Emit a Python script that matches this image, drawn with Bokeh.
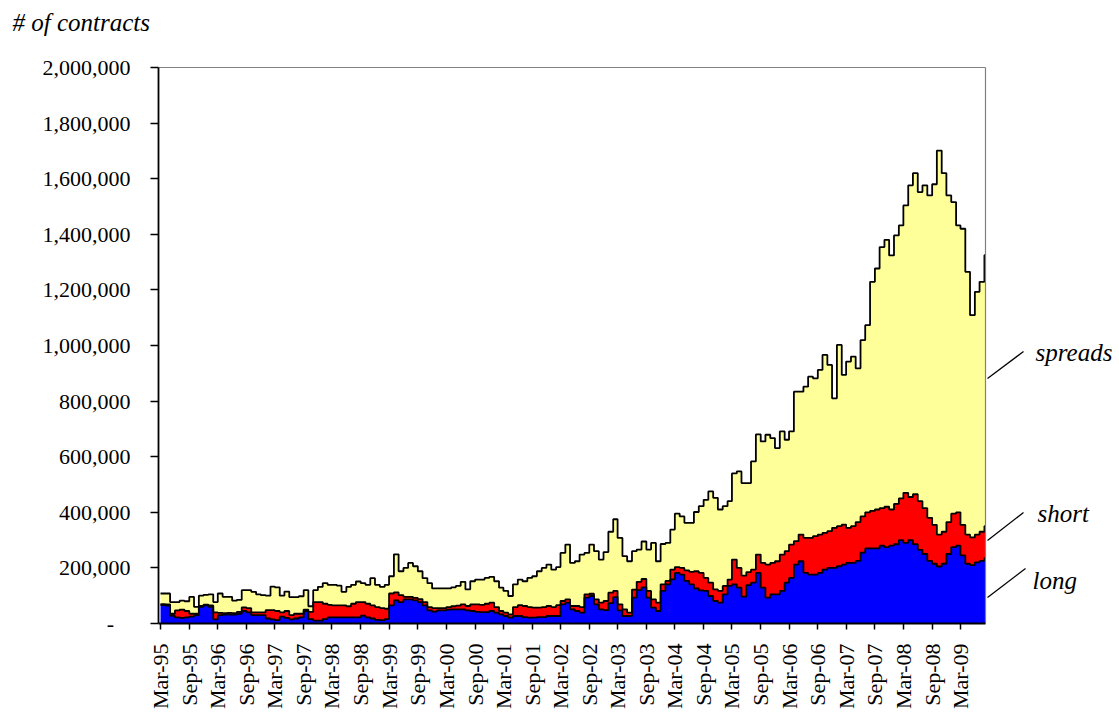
import numpy as np
import pandas as pd
from math import pi
from bokeh.plotting import figure
from bokeh.models import (FixedTicker, DatetimeTickFormatter, NumeralTickFormatter,
                          Label, Arrow, Range1d, ColumnDataSource)
from bokeh.embed import file_html
from bokeh.resources import INLINE

FONT = "Liberation Serif"

# ---------------- data (thousands of contracts, monthly from Mar-95) ----------------
first_month = "1995-03-01"

long_k = [
    66, 64, 28, 22, 20, 22, 25, 30, 60, 65, 60, 15,
    30, 32, 32, 32, 35, 45, 40, 30, 30, 30, 18, 15,
    12, 25, 20, 15, 18, 22, 45, 16, 10, 10, 16, 22,
    22, 22, 22, 22, 22, 22, 28, 22, 18, 13, 12, 16,
    65, 83, 77, 87, 87, 83, 77, 65, 47, 43, 47, 47,
    50, 51, 51, 51, 47, 45, 42, 41, 41, 45, 39, 33,
    27, 21, 27, 27, 23, 21, 21, 23, 23, 27, 27, 27,
    69, 75, 51, 45, 39, 93, 99, 69, 51, 48, 73, 95,
    47, 27, 27, 93, 120, 130, 93, 57, 45, 117, 141, 159,
    182, 176, 153, 141, 126, 119, 117, 99, 81, 75, 105, 135,
    141, 129, 97, 138, 147, 182, 129, 93, 105, 105, 117, 147,
    164, 212, 224, 182, 176, 176, 182, 194, 200, 200, 206, 212,
    218, 218, 225, 255, 270, 270, 270, 280, 275, 280, 285, 300,
    290, 300, 285, 265, 250, 225, 215, 205, 215, 250, 275, 280,
    245, 215, 210, 220, 225, 235,
]

short_k = [
    4, 5, 7, 25, 30, 23, 10, 5, 3, 3, 5, 25,
    8, 5, 6, 5, 7, 13, 15, 10, 10, 10, 30, 33,
    33, 15, 25, 15, 17, 13, 5, 26, 67, 67, 55, 45,
    43, 43, 43, 40, 49, 55, 49, 49, 47, 46, 43, 37,
    43, 29, 25, 9, 9, 9, 11, 12, 12, 12, 8, 8,
    9, 11, 13, 18, 16, 24, 27, 26, 30, 30, 20, 12,
    12, 12, 32, 39, 40, 38, 36, 34, 36, 36, 32, 39,
    12, 12, 12, 18, 20, 12, 8, 18, 24, 33, 38, 22,
    22, 24, 12, 29, 30, 30, 24, 30, 30, 24, 12, 35,
    21, 24, 38, 45, 62, 63, 47, 48, 42, 42, 30, 23,
    89, 71, 75, 47, 47, 66, 89, 119, 113, 119, 131, 113,
    120, 84, 96, 126, 132, 138, 138, 132, 132, 144, 144, 144,
    126, 132, 140, 130, 130, 135, 140, 135, 145, 130, 145, 150,
    180, 155, 180, 175, 165, 155, 140, 115, 115, 115, 120, 120,
    110, 105, 100, 100, 105, 115,
]

spreads_k = [
    38, 39, 42, 30, 32, 35, 61, 25, 37, 35, 40, 37,
    70, 59, 58, 45, 43, 62, 65, 74, 65, 62, 52, 85,
    85, 60, 70, 65, 60, 63, 70, 20, 43, 55, 74, 72,
    74, 71, 49, 70, 68, 74, 68, 68, 98, 80, 77, 86,
    62, 137, 86, 104, 122, 114, 100, 86, 86, 71, 71, 71,
    67, 68, 71, 81, 60, 83, 89, 91, 93, 93, 93, 84,
    78, 66, 82, 92, 89, 105, 113, 131, 141, 149, 135, 137,
    173, 197, 155, 161, 189, 149, 177, 173, 155, 176, 219, 258,
    239, 191, 185, 138, 116, 135, 149, 203, 149, 145, 137, 144,
    192, 185, 171, 176, 213, 240, 281, 328, 329, 293, 287, 282,
    310, 347, 333, 320, 389, 432, 437, 467, 449, 407, 443, 401,
    407, 538, 514, 544, 580, 568, 592, 640, 598, 466, 652, 538,
    598, 610, 553, 634, 673, 824, 867, 939, 960, 914, 966, 982,
    1034, 1121, 1155, 1112, 1161, 1160, 1225, 1381, 1290, 1175, 1121, 1032,
    1065, 945, 799, 873, 899, 975,
]

tick_dates = [f"{y}-{m:02d}-01" for y in range(1995, 2010) for m in (3, 9) if not (y == 2009 and m == 9)]
y_ticks = [0, 200000, 400000, 600000, 800000, 1000000, 1200000, 1400000, 1600000, 1800000, 2000000]

series_colors = {"long": "#0000FF", "short": "#FF0000", "spreads": "#FFFF99"}

# ---------------- geometry (page pixels) ----------------
W, H = 1118, 713
AX_LEFT, AX_RIGHT, AX_TOP, AX_BOT = 158, 985, 67, 623   # plot area in the reference
FRAME_TOP = 40                                          # frame extends above the plot area (title panel above)

x_start = pd.Timestamp("1995-02-16")
x_end = pd.Timestamp("2009-08-08")
Y_MAX = 2_000_000

x0_ms = x_start.value / 1e6
x1_ms = x_end.value / 1e6
ms_per_px = (x1_ms - x0_ms) / (AX_RIGHT - AX_LEFT)
val_per_px = Y_MAX / (AX_BOT - AX_TOP)


def px_x(px):
    return x0_ms + (px - AX_LEFT) * ms_per_px


def px_y(py):
    return (AX_BOT - py) * val_per_px


frame_x_end = px_x(W)
frame_y_top = px_y(FRAME_TOP)

# ---------------- build stacked series ----------------
n = len(long_k)
dates = [d.value / 1e6 for d in pd.date_range(first_month, periods=n, freq="MS")]
lng = np.array(long_k, dtype=float) * 1000
sht = np.array(short_k, dtype=float) * 1000
spr = np.array(spreads_k, dtype=float) * 1000

top_long = lng
top_short = lng + sht
top_total = lng + sht + spr

xs = dates + [x1_ms]


def ext(a):
    return list(a) + [a[-1]]


src = ColumnDataSource(dict(
    x=xs,
    zero=[0.0] * (n + 1),
    tl=ext(top_long),
    ts=ext(top_short),
    tt=ext(top_total),
))

p = figure(width=W, height=H, x_axis_type="datetime",
           x_range=Range1d(x0_ms, frame_x_end), y_range=Range1d(0, frame_y_top),
           output_backend="svg", toolbar_location=None,
           min_border_left=AX_LEFT, min_border_right=0, min_border_top=FRAME_TOP,
           min_border_bottom=H - AX_BOT)

p.background_fill_color = "white"
p.border_fill_color = "white"
p.outline_line_color = None
p.xgrid.visible = False
p.ygrid.visible = False

p.varea_step(x="x", y1="ts", y2="tt", step_mode="after", source=src, fill_color=series_colors["spreads"])
p.varea_step(x="x", y1="tl", y2="ts", step_mode="after", source=src, fill_color=series_colors["short"])
p.varea_step(x="x", y1="zero", y2="tl", step_mode="after", source=src, fill_color=series_colors["long"])
for col in ["tt", "ts", "tl"]:
    p.step(x="x", y=col, mode="after", source=src, line_color="black", line_width=1.8)

# plot-area border (top and right), grey as in the reference
p.segment(x0=[x0_ms, x1_ms], y0=[Y_MAX, 0], x1=[x1_ms, x1_ms], y1=[Y_MAX, Y_MAX],
          line_color="#808080", line_width=1.2)

# ---------------- axes ----------------
xa = p.xaxis[0]
xa.bounds = (x0_ms, x1_ms)
xa.ticker = FixedTicker(ticks=[pd.Timestamp(d).value / 1e6 for d in tick_dates])
fmt = "%b-%y"
xa.formatter = DatetimeTickFormatter(microseconds=fmt, milliseconds=fmt, seconds=fmt, minsec=fmt,
                                     minutes=fmt, hourmin=fmt, hours=fmt, days=fmt,
                                     months=fmt, years=fmt)
xa.major_label_orientation = pi / 2
xa.major_label_text_font = FONT
xa.major_label_text_font_size = "22px"
xa.major_label_text_color = "black"
xa.major_tick_out = 6
xa.major_tick_in = 0
xa.minor_tick_out = 0
xa.minor_tick_in = 0
xa.major_label_standoff = 14
xa.axis_line_color = "black"
xa.axis_line_width = 1.8
xa.major_tick_line_color = "black"
xa.major_tick_line_width = 1.5

ya = p.yaxis[0]
ya.bounds = (0, Y_MAX)
ya.ticker = FixedTicker(ticks=y_ticks)
ya.formatter = NumeralTickFormatter(format="0,0")
ya.major_label_overrides = {0: "-\u00a0\u00a0\u00a0"}
ya.major_label_text_font = FONT
ya.major_label_text_font_size = "22px"
ya.major_label_text_color = "black"
ya.major_tick_out = 8
ya.major_tick_in = 0
ya.minor_tick_out = 0
ya.minor_tick_in = 0
ya.major_label_standoff = 20
ya.axis_line_color = "black"
ya.axis_line_width = 1.8
ya.major_tick_line_color = "black"
ya.major_tick_line_width = 1.5

# ---------------- texts ----------------
p.title.text = "# of contracts"
p.title.align = "left"
p.title.offset = 12 - AX_LEFT
p.title.text_font = FONT
p.title.text_font_style = "italic"
p.title.text_font_size = "25px"
p.title.text_color = "black"
p.title.standoff = 9

notes = [("spreads", 1035, 352, (987, 378, 1023, 351)),
         ("short", 1037, 513, (987, 540, 1023, 512)),
         ("long", 1032, 580, (987, 597, 1025, 568))]
for txt, tx, ty, (ax0, ay0, ax1, ay1) in notes:
    p.add_layout(Label(x=px_x(tx), y=px_y(ty), text=txt, text_font=FONT,
                       text_font_style="italic", text_font_size="25px", text_color="black",
                       text_baseline="alphabetic", text_align="left"))
    p.add_layout(Arrow(end=None, x_start=px_x(ax0), y_start=px_y(ay0),
                       x_end=px_x(ax1), y_end=px_y(ay1), line_color="black", line_width=1.3))

open("out.html", "w").write(file_html(p, INLINE))
